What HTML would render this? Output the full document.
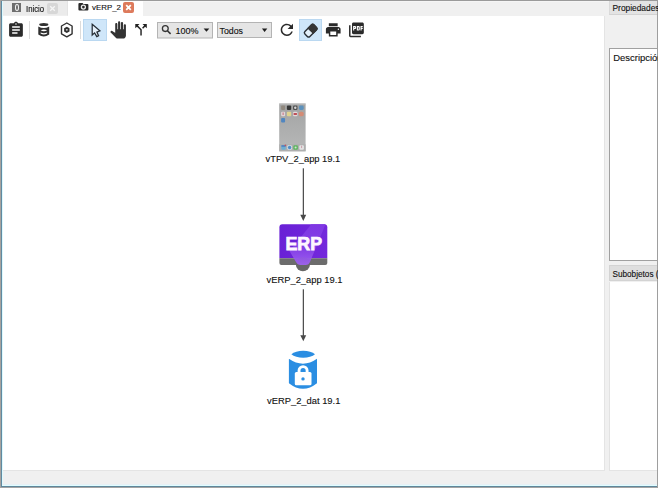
<!DOCTYPE html>
<html><head><meta charset="utf-8">
<style>
html,body{margin:0;padding:0;}
body{width:658px;height:488px;position:relative;overflow:hidden;background:#f0f0f0;font-family:"Liberation Sans",sans-serif;}
.a{position:absolute;}
.lbl{font-size:9.35px;}
.t{position:absolute;white-space:nowrap;color:#111;line-height:1;-webkit-text-stroke:0.12px #111;}
</style></head><body>
<!-- outer frame -->
<div class="a" style="left:0;top:0;width:658px;height:1px;background:#9a9a9a"></div>
<div class="a" style="left:143px;top:1px;width:466px;height:1px;background:#f5f5f5"></div>
<div class="a" style="left:0;top:0;width:1px;height:488px;background:#a6a29f"></div>
<div class="a" style="left:1px;top:1px;width:1px;height:486px;background:#5f8aa2"></div>
<div class="a" style="left:2px;top:1px;width:1px;height:485px;background:#ddf9fd"></div>
<div class="a" style="left:2px;top:484px;width:655px;height:1px;background:#e6f0f6"></div>
<div class="a" style="left:2px;top:485px;width:655px;height:1px;background:#e0fdff"></div>
<div class="a" style="left:1px;top:486px;width:657px;height:1px;background:#5f879b"></div>
<div class="a" style="left:0;top:487px;width:658px;height:1px;background:#a4a4a4"></div>
<div class="a" style="left:657px;top:0;width:1px;height:488px;background:#9e9e9e"></div>
<!-- tabs -->
<div class="a" style="left:3px;top:1px;width:65px;height:15px;background:#ebebeb;box-sizing:border-box;border-right:1px solid #e3e3e3;border-bottom:1px solid #efefef"></div>
<div class="a" style="left:12px;top:3px;width:9px;height:9px;background:#6e6e6e"></div>
<div class="a" style="left:14.5px;top:4px;width:4px;height:6.5px;border:1px solid #f4f4f4;border-radius:50%;box-sizing:border-box"></div>
<div class="t" style="left:25.5px;top:4.6px;font-size:8.4px;transform:scaleX(0.93);transform-origin:0 0;">Inicio</div>
<div class="a" style="left:47px;top:3px;width:11px;height:11px;background:#d7d7d7;border-radius:2px"></div>
<svg class="a" style="left:47px;top:3px" width="11" height="11"><path d="M3.2 3.2 L7.8 7.8 M7.8 3.2 L3.2 7.8" stroke="#f6f6f6" stroke-width="1.3"/></svg>

<div class="a" style="left:68px;top:1px;width:75px;height:16px;background:#ffffff"></div>
<svg class="a" style="left:0;top:0" width="140" height="16"><path d="M78.4 4 Q78.4 3 79.4 3 L82.6 3 L83.4 4.1 L87.4 4.1 Q88.4 4.1 88.4 5.1 L88.4 9.5 Q88.4 10.5 87.4 10.5 L79.4 10.5 Q78.4 10.5 78.4 9.5 Z" fill="#2a2a2a"/><circle cx="83.4" cy="7.1" r="2" fill="none" stroke="#ececec" stroke-width="1.3"/></svg>
<div class="t" style="left:92px;top:3.8px;font-size:7.9px;">vERP_2</div>
<div class="a" style="left:123px;top:2px;width:11px;height:11px;background:#dd7a5c;border-radius:2px"></div>
<svg class="a" style="left:123px;top:2px" width="11" height="11"><path d="M3.2 3.2 L7.8 7.8 M7.8 3.2 L3.2 7.8" stroke="#fff" stroke-width="1.8"/></svg>

<!-- right panel -->
<div class="a" style="left:604px;top:16px;width:1px;height:455px;background:#e4e4e4"></div>
<div class="a" style="left:609px;top:1px;width:48px;height:14px;background:#e3e3e3;border-bottom:1px solid #d2d2d2;border-left:1px solid #dadada;box-sizing:border-box"></div>
<div class="t" style="left:612.5px;top:4.2px;font-size:8.4px;">Propiedades</div>
<div class="a" style="left:609px;top:48px;width:48px;height:213px;background:#fff;border:1px solid #a0a0a0;border-right:none;box-sizing:border-box"></div>
<div class="t" style="left:613.3px;top:52.8px;font-size:9.45px;">Descripción</div>
<div class="a" style="left:609px;top:265px;width:48px;height:16px;background:#dedede;border:1px solid #d3d3d3;border-right:none;box-sizing:border-box"></div>
<div class="t" style="left:612.5px;top:270.6px;font-size:8.2px;">Subobjetos (</div>
<div class="a" style="left:609px;top:282px;width:48px;height:189px;background:#fff;border-left:1px solid #e2e2e2;border-bottom:1px solid #e4e4e4;box-sizing:border-box"></div>

<!-- canvas -->
<div class="a" style="left:3px;top:16px;width:601px;height:454px;background:#fff"></div>
<div class="a" style="left:3px;top:1px;width:65px;height:15px;"></div>
<div class="a" style="left:3px;top:470px;width:601px;height:1px;background:#e4e4e4"></div>

<!-- toolbar placeholder -->
<svg class="a" style="left:0;top:0" width="658" height="488" viewBox="0 0 658 488">
<!-- separators -->
<rect x="29" y="21" width="1" height="18" fill="#dcdcdc"/>
<rect x="80" y="21" width="1" height="18" fill="#dcdcdc"/>
<!-- select button bg -->
<rect x="83.5" y="19.5" width="23" height="21" fill="#cfe6f9" stroke="#bad8f1" stroke-width="1"/>
<rect x="299.5" y="19.5" width="22" height="21" fill="#cfe6f9" stroke="#bad8f1" stroke-width="1"/>
<!-- clipboard (assignment) -->
<path transform="translate(6.8,20.95) scale(0.765,0.75)" fill="#2b2b2b" d="M19 3h-4.18C14.4 1.84 13.3 1 12 1c-1.3 0-2.4.84-2.82 2H5c-1.1 0-2 .9-2 2v14c0 1.1.9 2 2 2h14c1.1 0 2-.9 2-2V5c0-1.1-.9-2-2-2zm-7 0c.55 0 1 .45 1 1s-.45 1-1 1-1-.45-1-1 .45-1 1-1zm2 14H7v-2h7v2zm3-4H7v-2h10v2zm0-4H7V7h10v2z"/>
<!-- database -->
<g fill="#303030">
<ellipse cx="43.8" cy="24.5" rx="4.6" ry="1.5"/>
<path d="M38.3 26.6 Q43.75 29.6 49.2 26.6 L49.2 34.6 Q43.75 38.6 38.3 34.6 Z"/>
</g>
<path d="M40.6 30.3 Q43.85 28.6 47.1 30.3 Q43.85 32 40.6 30.3Z" fill="#fff"/>
<path d="M40.6 32.6 Q43.85 34.0 47.1 32.6 L47.1 33.4 Q43.85 35.6 40.6 33.4Z" fill="#fff"/>
<!-- hexagon -->
<path d="M66.8 23 L72.1 26 L72.1 33.8 L66.8 36.8 L61.5 33.8 L61.5 26 Z" fill="none" stroke="#303030" stroke-width="1.4" stroke-linejoin="round"/>
<path d="M66.8 27.9 L68.55 28.9 L68.55 30.9 L66.8 31.9 L65.05 30.9 L65.05 28.9 Z" fill="none" stroke="#303030" stroke-width="1.9"/>
<!-- cursor -->
<path d="M92.2 24.3 L99.9 30.9 L96.9 32.1 L98.6 35.7 L96.8 36.6 L94.6 32.9 L92.2 35 Z" fill="#e6f1fb" stroke="#262e36" stroke-width="1.25" stroke-linejoin="miter"/>
<!-- hand (pan_tool) -->
<path transform="translate(109.5,21.3) scale(0.714,0.72)" fill="#333" d="M23 5.5V20c0 2.2-1.8 4-4 4h-7.3c-1.08 0-2.1-.43-2.850-1.19L1 14.83s1.26-1.23 1.3-1.25c.22-.19.49-.29.79-.29.22 0 .42.06.6.16.04.01 4.31 2.46 4.31 2.46V4c0-.83.67-1.5 1.5-1.5S11 3.170 11 4v7h1V1.5c0-.83.67-1.5 1.5-1.5S15 .67 15 1.5V11h1V2.5c0-.83.67-1.5 1.5-1.5s1.5.67 1.5 1.5V11h1V5.5c0-.83.67-1.5 1.5-1.5s1.5.67 1.5 1.5z"/>
<!-- call split -->
<path transform="translate(132.4,21) scale(0.72,0.73)" fill="#222" d="M14 4l2.29 2.29-2.88 2.88 1.42 1.42 2.88-2.88L20 10V4zm-4 0H4v6l2.29-2.29 4.710 4.7V20h2v-8.41l-5.29-5.3z"/>
<!-- zoom combo -->
<rect x="157.5" y="22.5" width="55" height="15.5" fill="#e5e5e5" stroke="#b4b4b4" stroke-width="1"/>
<circle cx="165.3" cy="28.6" r="2.9" fill="none" stroke="#333" stroke-width="1.3"/>
<path d="M167.4 30.7 L170.6 33.9" stroke="#333" stroke-width="1.5"/>
<path d="M203.6 28.4 L209.3 28.4 L206.45 31.7 Z" fill="#1e1e1e"/>
<!-- todos combo -->
<rect x="217.5" y="22.5" width="54" height="15" fill="#e5e5e5" stroke="#b4b4b4" stroke-width="1"/>
<path d="M261.9 28.4 L267.3 28.4 L264.6 31.9 Z" fill="#1e1e1e"/>
<!-- refresh -->
<path transform="translate(277.6,20.6) scale(0.77)" fill="#2a2a2a" d="M17.65 6.35C16.2 4.9 14.21 4 12 4c-4.42 0-7.99 3.58-7.99 8s3.57 8 7.99 8c3.73 0 6.84-2.55 7.73-6h-2.08c-.82 2.330-3.04 4-5.65 4-3.31 0-6-2.69-6-6s2.69-6 6-6c1.66 0 3.14.69 4.22 1.78L13 11h7V4l-2.35 2.35z"/>
<!-- eraser -->
<g transform="translate(310.65,30.7) rotate(-45)">
<rect x="-6.4" y="-3.5" width="12.8" height="7" rx="1.8" fill="#e4f0fa" stroke="#2a2f35" stroke-width="1.4"/>
<path d="M-0.6 -4.2 L5.1 -4.2 Q7.1 -4.2 7.1 -2.2 L7.1 2.2 Q7.1 4.2 5.1 4.2 L-0.6 4.2 Z" fill="#353535"/>
</g>
<!-- print -->
<path transform="translate(324.43,21.1) scale(0.735)" fill="#2a2a2a" d="M19 8H5c-1.66 0-3 1.34-3 3v6h4v4h12v-4h4v-6c0-1.66-1.34-3-3-3zm-3 11H8v-5h8v5zm3-7c-.55 0-1-.45-1-1s.45-1 1-1 1 .45 1 1-.45 1-1 1zm-1-9H6v4h12V3z"/>
<!-- pdf -->
<path transform="translate(347.56,20.92) scale(0.74)" fill="#2a2a2a" d="M20 2H8c-1.1 0-2 .9-2 2v12c0 1.1.9 2 2 2h12c1.1 0 2-.9 2-2V4c0-1.1-.9-2-2-2zm-8.5 7.5c0 .83-.67 1.5-1.5 1.5H9v2H7.5V7H10c.83 0 1.5.67 1.5 1.5v1zm5 2c0 .83-.67 1.5-1.5 1.5h-2.5V7H15c.83 0 1.5.67 1.5 1.5v3zm4-3H19v1h1.5V11H19v2h-1.5V7h3v1.5zM9 9.5h1v-1H9v1zM4 6H2v14c0 1.1.9 2 2 2h14v-2H4V6zm10 5.5h1v-3h-1v3z"/>
</svg>
<div class="t" style="left:175.5px;top:27px;font-size:9px;">100%</div>
<div class="t" style="left:219.5px;top:26.8px;font-size:8.8px;">Todos</div>


<!-- diagram placeholder -->
<svg class="a" style="left:0;top:0" width="658" height="488" viewBox="0 0 658 488">
<defs>
<linearGradient id="scr" x1="0" y1="0" x2="0" y2="1">
<stop offset="0" stop-color="#a2a3a3"/><stop offset="0.85" stop-color="#b4b5b5"/><stop offset="1" stop-color="#b4b5b5"/>
</linearGradient>
<linearGradient id="fun" x1="0" y1="0" x2="0" y2="1">
<stop offset="0" stop-color="#8038e4"/><stop offset="0.6" stop-color="#8642e6"/><stop offset="1" stop-color="#a062f2"/>
</linearGradient>
</defs>
<defs><filter id="bl" x="-10%" y="-10%" width="120%" height="120%"><feGaussianBlur stdDeviation="0.4"/></filter></defs>
<!-- phone -->
<rect x="279.2" y="103.5" width="26.4" height="47.8" fill="url(#scr)"/>
<rect x="279.2" y="103.5" width="26.4" height="1" fill="#c4c4c4"/>
<rect x="279.2" y="144.3" width="26.4" height="7" fill="#aeafaf"/>
<g filter="url(#bl)" opacity="0.8">
<rect x="281.1" y="105.6" width="4" height="4.3" rx="1" fill="#8c8174"/>
<rect x="286.9" y="105.6" width="4.3" height="4.3" rx="1" fill="#1e1e1e"/>
<rect x="293" y="105.6" width="4.5" height="4.3" rx="1.2" fill="#3c3c3c"/>
<circle cx="295.3" cy="107.75" r="1.2" fill="#e0e0e0"/>
<rect x="298.9" y="105.6" width="4.8" height="4.3" rx="1.3" fill="#4b8dc2"/>
<rect x="281.1" y="111.7" width="4" height="4.6" rx="1" fill="#efe0e2"/>
<rect x="282.6" y="112.5" width="1" height="2.5" fill="#d06070"/>
<rect x="286.9" y="111.7" width="4.3" height="4.6" rx="1" fill="#efe08a"/>
<rect x="293" y="111.7" width="4.5" height="4.6" rx="1.2" fill="#f2e8ea"/>
<rect x="293.6" y="113" width="3.3" height="2" fill="#c43a44"/>
<rect x="298.9" y="111.7" width="4.8" height="4.6" rx="1.6" fill="#e0866a"/>
<rect x="281.1" y="117.9" width="4" height="4.5" rx="1" fill="#3a7ec6"/>
<rect x="281.3" y="145.2" width="4.4" height="4.6" rx="1" fill="#5cb0de"/>
<rect x="281.3" y="145.2" width="4.4" height="1.5" rx="0.6" fill="#3a6fc0"/>
<circle cx="285.4" cy="145.3" r="0.9" fill="#c04050"/>
<rect x="287.3" y="145.2" width="4.6" height="4.6" rx="1.2" fill="#e2eef8"/>
<circle cx="289.6" cy="147.5" r="1.7" fill="#3a86cc"/>
<rect x="293.3" y="145.2" width="4.6" height="4.6" rx="1.2" fill="#4cb84e"/>
<circle cx="295.6" cy="147.5" r="1" fill="#d8f0d8"/>
<rect x="299.3" y="145.2" width="4.6" height="4.6" rx="1" fill="#f2f2f2"/>
<rect x="301.2" y="145.7" width="0.9" height="2.4" fill="#d090a0"/>
</g>
<!-- connector 1 -->
<rect x="302.75" y="168.3" width="1.2" height="47" fill="#484848"/>
<path d="M300.3 214.8 L306.2 214.8 L303.3 220.9 Z" fill="#484848"/>
<!-- ERP -->
<defs><linearGradient id="erpg" x1="0" y1="0" x2="1" y2="0"><stop offset="0" stop-color="#6920d6"/><stop offset="1" stop-color="#7428dc"/></linearGradient></defs>
<path d="M279.4 227.3 Q279.4 224.3 282.4 224.3 L324.3 224.3 Q327.3 224.3 327.3 227.3 L327.3 258.2 L279.4 258.2 Z" fill="url(#erpg)"/>
<path d="M279.4 258.2 L327.3 258.2 L327.3 263.1 Q327.3 265.1 325.3 265.1 L281.4 265.1 Q279.4 265.1 279.4 263.1 Z" fill="#6c6c6c"/>
<circle cx="302.9" cy="264.2" r="7.1" fill="#676767"/>
<path d="M311.3 224.3 L325.5 224.3 L310.2 261.5 Q309 265 305.5 265 L300.5 265 Q297.5 265 296 262 L289.5 251 Z" fill="url(#fun)" opacity="0.92"/>
<text x="285.5" y="249.5" font-family="Liberation Sans" font-weight="bold" font-size="17.8" fill="#fdf6ff" stroke="#fdf6ff" stroke-width="0.75">ERP</text>
<!-- connector 2 -->
<rect x="302.75" y="289.3" width="1.2" height="47" fill="#484848"/>
<path d="M300.3 335.2 L306.2 335.2 L303.3 341.2 Z" fill="#484848"/>
<!-- DB -->
<path d="M291.4 354.3 C296 349.5 310.4 349.5 315 354.3 C310.4 358.9 296 358.9 291.4 354.3 Z" fill="#2b8ee2"/>
<path d="M288.9 358.8 Q303 368.6 317 358.8 L317 383.3 Q303 394.3 288.9 383.3 Z" fill="#2b8ee2"/>
<rect x="294.8" y="372" width="16.7" height="13.3" rx="1.5" fill="#fff"/>
<path d="M299.05 372.5 L299.05 370.6 A4.02 4.02 0 0 1 307.1 370.6 L307.1 372.5" fill="none" stroke="#fff" stroke-width="2.9"/>
<circle cx="303" cy="378.9" r="1.7" fill="#2b8ee2"/>
</svg>
<div class="t lbl" style="left:265.5px;top:155.3px;">vTPV_2_app 19.1</div>
<div class="t lbl" style="left:266.6px;top:276px;">vERP_2_app 19.1</div>
<div class="t lbl" style="left:267.1px;top:396.7px;">vERP_2_dat 19.1</div>


</body></html>
